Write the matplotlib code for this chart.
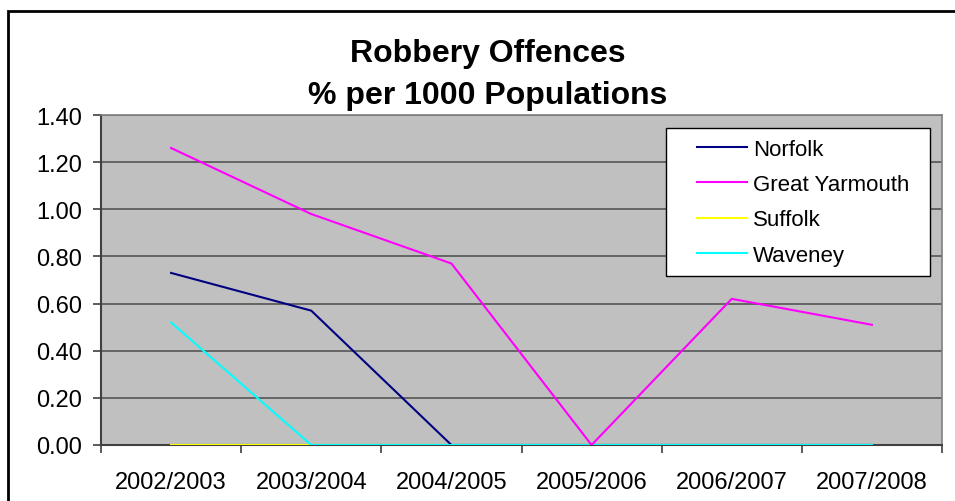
import matplotlib
matplotlib.use("Agg")
import numpy as np
import matplotlib.pyplot as plt
from matplotlib.patches import Rectangle
from matplotlib.ticker import FixedLocator
from matplotlib.legend_handler import HandlerLine2D

plt.rcParams['font.family'] = ['Liberation Sans', 'DejaVu Sans']

categories = ["2002/2003", "2003/2004", "2004/2005", "2005/2006", "2006/2007", "2007/2008"]
norfolk = [0.73, 0.57, 0.00, 0.00, 0.00, 0.00]
great_yarmouth = [1.26, 0.98, 0.77, 0.00, 0.62, 0.51]
suffolk = [0.00, 0.00, 0.00, 0.00, 0.00, 0.00]
waveney = [0.52, 0.00, 0.00, 0.00, 0.00, 0.00]
yticks = [0.0, 0.2, 0.4, 0.6, 0.8, 1.0, 1.2, 1.4]


class OffsetLineHandler(HandlerLine2D):
    """Draw the legend line only in the right part of the handle box."""
    frac = 0.714

    def get_xdata(self, legend, xdescent, ydescent, width, height, fontsize):
        x0 = -xdescent + width * (1 - self.frac)
        x1 = -xdescent + width
        xd = np.array([x0, x1])
        return xd, xd


W, H = 955, 502
fig = plt.figure(figsize=(W / 100, H / 100), dpi=100)
fig.patch.set_facecolor("white")

left, right, top, bottom = 101, 942, 116, 446
ax = fig.add_axes([left / W, 1 - bottom / H, (right - left) / W, (bottom - top) / H])
ax.set_facecolor("#C0C0C0")

x = list(range(len(categories)))
ax.plot(x, suffolk, color="#FFFF00", lw=1.5, label="Suffolk", zorder=3)
ax.plot(x, norfolk, color="#000080", lw=1.5, label="Norfolk", zorder=4)
ax.plot(x, waveney, color="#00FFFF", lw=1.5, label="Waveney", zorder=5)
ax.plot(x, great_yarmouth, color="#FF00FF", lw=1.5, label="Great Yarmouth", zorder=6)

ax.set_xlim(-0.5, len(categories) - 0.5)
ax.set_ylim(0, 1.4)
ax.set_yticks(yticks)
ax.set_yticklabels([f"{v:.2f}" for v in yticks])
ax.set_xticks(x)
ax.set_xticklabels(categories)
ax.xaxis.set_minor_locator(FixedLocator([i - 0.5 for i in range(len(categories) + 1)]))
ax.tick_params(axis="x", which="major", length=0, pad=19, labelsize=17)
ax.tick_params(axis="x", which="minor", length=5.5, width=1.2, color="#404040")
ax.tick_params(axis="y", which="major", length=5.5, width=1.2, color="#404040", pad=8, labelsize=17)
ax.grid(axis="y", color="#555555", lw=1.2, zorder=1)
ax.set_axisbelow(True)

for s in ["left", "bottom"]:
    ax.spines[s].set_color("#404040")
    ax.spines[s].set_linewidth(1.5)
for s in ["top", "right"]:
    ax.spines[s].set_color("#808080")
    ax.spines[s].set_linewidth(1.2)

fig.text(488 / W, 1 - 62 / H, "Robbery Offences", ha="center", va="baseline",
         fontsize=23, fontweight="bold")
fig.text(488 / W, 1 - 104 / H, "% per 1000 Populations", ha="center", va="baseline",
         fontsize=23, fontweight="bold")

h, l = ax.get_legend_handles_labels()
order = ["Norfolk", "Great Yarmouth", "Suffolk", "Waveney"]
hs = [h[l.index(n)] for n in order]
leg_x0, leg_y0, leg_x1, leg_y1 = 666, 129, 930, 272
leg = ax.legend(hs, order, loc="upper left",
                bbox_to_anchor=(leg_x0 / W, 1 - leg_y1 / H, (leg_x1 - leg_x0) / W, (leg_y1 - leg_y0) / H),
                bbox_transform=fig.transFigure, mode="expand", borderaxespad=0, fancybox=False,
                framealpha=1, edgecolor="black", fontsize=16, labelspacing=0.64,
                handlelength=3.15, handletextpad=0.27, borderpad=0.49,
                handler_map={matplotlib.lines.Line2D: OffsetLineHandler()})
leg.get_frame().set_linewidth(1.0)
leg.set_zorder(10)

fig.patches.append(Rectangle((8 / W, -0.1), 1.2, 1 - 12 / H + 0.1, transform=fig.transFigure,
                             fill=False, edgecolor="black", lw=2, zorder=0))

fig.savefig("out.png", dpi=100)
